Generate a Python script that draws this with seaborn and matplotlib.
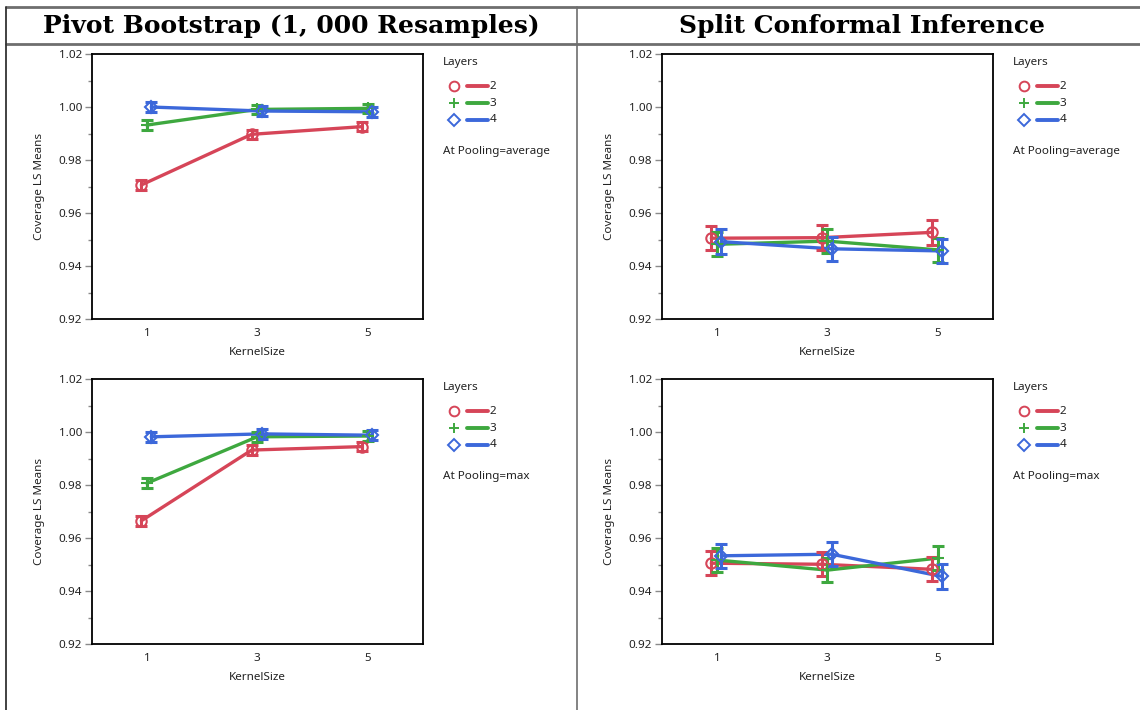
import matplotlib
matplotlib.use("Agg")
import matplotlib.pyplot as plt
from matplotlib.lines import Line2D
import numpy as np
import pandas as pd
import seaborn as sns

# ---- data -------------------------------------------------------------
kernel_sizes = [1, 3, 5]
layers = [2, 3, 4]

# LS means of coverage, one row per number of layers (2, 3, 4)
boot_avg = [[0.9707, 0.9898, 0.9927],
            [0.9933, 0.9992, 0.9996],
            [1.0001, 0.9986, 0.9983]]
boot_max = [[0.9666, 0.9933, 0.9946],
            [0.9808, 0.9983, 0.9986],
            [0.9983, 0.9994, 0.9989]]
conf_avg = [[0.9506, 0.9508, 0.9528],
            [0.9483, 0.9495, 0.9462],
            [0.9493, 0.9466, 0.9458]]
conf_max = [[0.9506, 0.9502, 0.9483],
            [0.9518, 0.9480, 0.9525],
            [0.9534, 0.9540, 0.9456]]

# half-width of the confidence interval for each mean
boot_hw = 0.0018
conf_hw = 0.0046

column_titles = ["Pivot Bootstrap (1, 000 Resamples)", "Split Conformal Inference"]
pooling = ["average", "max"]
y_ticks = [0.92, 0.94, 0.96, 0.98, 1.00, 1.02]

# ---- style ------------------------------------------------------------
sns.set_theme(style="white")
plt.rcParams["font.family"] = ["Noto Sans", "DejaVu Sans"]

colors = {2: "#d64558", 3: "#3ea83f", 4: "#3c68da"}
markers = {2: "o", 3: "+", 4: "D"}
msize = {2: 7.5, 3: 8, 4: 6.5}
offsets = {2: -0.1, 3: 0.0, 4: 0.08}

W, H = 1140, 710
fig = plt.figure(figsize=(W / 100, H / 100), dpi=100)


def fx(px):
    return px / W


def fy(py):
    return 1 - py / H


def make_frame(values, hw):
    rows = []
    for li, lay in enumerate(layers):
        for ki, k in enumerate(kernel_sizes):
            rows.append({"KernelSize": k, "Layers": lay,
                         "x": k + offsets[lay],
                         "mean": values[li][ki], "hw": hw})
    return pd.DataFrame(rows)


panels = [
    (0, 0, boot_avg, boot_hw), (0, 1, boot_max, boot_hw),
    (1, 0, conf_avg, conf_hw), (1, 1, conf_max, conf_hw),
]

ax_left = [91.7, 661.7]
ax_top = [54.3, 379.3]
ax_w, ax_h = 331.0, 265.0
txt = "#222222"
fs = 8.4

for col, row, values, hw in panels:
    left, top = ax_left[col], ax_top[row]
    ax = fig.add_axes([fx(left), fy(top + ax_h), ax_w / W, ax_h / H])
    df = make_frame(values, hw)

    sns.lineplot(data=df, x="x", y="mean", hue="Layers", palette=colors,
                 lw=2.4, legend=False, ax=ax, sort=True, estimator=None)
    for lay in layers:
        sub = df[df["Layers"] == lay]
        ax.errorbar(sub["x"], sub["mean"], yerr=sub["hw"], fmt="none",
                    ecolor=colors[lay], elinewidth=2.2, capsize=4.5,
                    capthick=2.2, zorder=3)
        ax.plot(sub["x"], sub["mean"], ls="none", marker=markers[lay],
                ms=msize[lay], mfc="none", mec=colors[lay], mew=1.5, zorder=4)

    ax.set_xlim(0, 6)
    ax.set_ylim(0.92, 1.02)
    ax.set_xticks(kernel_sizes)
    ax.set_xticklabels([str(k) for k in kernel_sizes])
    ax.set_yticks(y_ticks)
    ax.set_yticklabels([f"{t:.2f}" for t in y_ticks])
    ax.set_yticks(np.arange(0.93, 1.02, 0.02), minor=True)
    ax.tick_params(axis="y", which="major", direction="out", length=5,
                   width=1, color="#8a8a8a", labelsize=fs, pad=2,
                   labelcolor=txt, left=True)
    ax.tick_params(axis="y", which="minor", direction="out", length=3,
                   width=1, color="#8a8a8a", left=True)
    ax.tick_params(axis="x", which="both", length=0, labelsize=fs, pad=6,
                   labelcolor=txt)
    ax.set_xlabel("KernelSize", fontsize=fs, labelpad=6, color=txt)
    ax.set_ylabel("Coverage LS Means", fontsize=fs, labelpad=10, color=txt)
    for s in ax.spines.values():
        s.set_color("black")
        s.set_linewidth(1.3)

    # legend block to the right of the plot
    lx = left + ax_w + 20
    fig.text(fx(lx), fy(top + 8), "Layers", fontsize=fs, va="center",
             ha="left", color=txt)
    for i, lay in enumerate(layers):
        yy = fy(top + 32 + 16.8 * i)
        fig.add_artist(Line2D([fx(lx + 11)], [yy], transform=fig.transFigure,
                              marker=markers[lay], ms=msize[lay] - 0.5,
                              mfc="none", mec=colors[lay], mew=1.4,
                              ls="none"))
        fig.add_artist(Line2D([fx(lx + 24), fx(lx + 45)], [yy, yy],
                              transform=fig.transFigure, color=colors[lay],
                              lw=2.8))
        fig.text(fx(lx + 47), yy, str(lay), fontsize=fs, va="center",
                 ha="left", color=txt)
    fig.text(fx(lx), fy(top + 97), f"At Pooling={pooling[row]}",
             fontsize=fs, va="center", ha="left", color=txt)

# ---- table frame and column headers ----------------------------------
grey = "#6e6e6e"
fig.add_artist(Line2D([fx(6), 1], [fy(7), fy(7)], transform=fig.transFigure,
                      color=grey, lw=2.0))
fig.add_artist(Line2D([fx(6), 1], [fy(44), fy(44)], transform=fig.transFigure,
                      color=grey, lw=2.0))
fig.add_artist(Line2D([fx(6), fx(6)], [fy(7), 0], transform=fig.transFigure,
                      color="#333333", lw=1.3))
fig.add_artist(Line2D([fx(577), fx(577)], [fy(7), 0],
                      transform=fig.transFigure, color=grey, lw=1.2))

for cx, title in zip([291.5, 862], column_titles):
    fig.text(fx(cx), fy(26), title, fontsize=18, family="DejaVu Serif",
             weight="bold", ha="center", va="center", color="black")

fig.savefig("out.png", dpi=100)
